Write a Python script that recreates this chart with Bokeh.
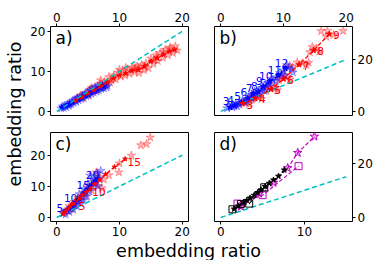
import math
from bokeh.plotting import figure
from bokeh.models import Range1d, LinearAxis, FixedTicker, Label
from bokeh.layouts import row, column
from bokeh.core.properties import value
from bokeh.embed import file_html
from bokeh.resources import INLINE

# ---------------- data ----------------
# reference (y = x) lines
diag_ab_x = [0, 20]
diag_ab_y = [0, 20]
diag_c_x = [0, 20]
diag_c_y = [0, 20]
diag_d_x = [0, 15]
diag_d_y = [0, 15]

# panel a: mean curves
a_red_x = [3.0, 4.0, 5.0, 6.0, 7.0, 8.0, 9.0, 10.0, 11.0, 12.0, 13.0, 14.0, 15.0, 16.0, 17.0, 18.0, 18.8]
a_red_y = [2.8, 3.6, 4.5, 5.3, 6.2, 7.3, 8.3, 9.0, 9.5, 10.2, 10.4, 11.3, 12.5, 13.3, 14.2, 15.0, 15.4]
a_blue_x = [0.8, 1.5, 2.0, 2.5, 3.0, 3.5, 4.0, 4.5, 5.0, 5.5, 6.0, 6.5, 7.0, 7.5]
a_blue_y = [1.0, 1.5, 1.9, 2.3, 2.7, 3.1, 3.5, 3.9, 4.3, 4.7, 5.1, 5.5, 5.8, 6.1]
# panel a: scatter clouds
a_red_sx = [3.2, 3.8, 4.1, 4.6, 5.0, 5.3, 5.7, 6.1, 6.4, 6.9, 7.2, 7.6, 8.0, 8.3, 8.7, 9.1, 9.4, 9.8,
            10.2, 10.5, 10.9, 11.3, 11.6, 12.0, 12.4, 12.8, 13.1, 13.5, 13.9, 14.2, 14.6, 15.0, 15.4,
            15.8, 16.1, 16.5, 16.9, 17.3, 17.7, 18.1, 18.5, 18.9, 19.2, 7.0, 8.5, 10.0, 12.5, 14.0,
            15.5, 17.0, 5.5, 9.0, 11.0, 13.0, 16.0, 18.0]
a_red_sy = [3.3, 4.0, 3.4, 4.6, 4.0, 5.5, 4.9, 6.1, 5.3, 6.9, 6.0, 7.4, 7.0, 8.6, 7.8, 9.0, 8.0, 9.7,
            8.7, 10.0, 9.0, 10.5, 9.4, 11.0, 9.8, 11.3, 9.6, 11.6, 10.3, 12.0, 10.8, 13.2, 11.9,
            14.0, 12.6, 14.6, 13.4, 15.4, 14.0, 16.0, 14.6, 16.3, 15.2, 7.8, 7.2, 10.4, 10.9, 11.2,
            12.8, 14.8, 5.9, 8.4, 10.9, 10.6, 13.5, 15.6]
a_blue_sx = [0.7, 0.9, 1.1, 1.3, 1.5, 1.7, 1.9, 2.1, 2.3, 2.5, 2.7, 2.9, 3.1, 3.3, 3.5, 3.7, 3.9, 4.1,
             4.3, 4.5, 4.7, 4.9, 5.1, 5.3, 5.5, 5.7, 5.9, 6.1, 6.3, 6.5, 6.7, 6.9, 7.1, 7.3, 7.5, 7.7,
             7.9, 8.1, 2.0, 3.0, 4.0, 5.0, 6.0, 7.0]
a_blue_sy = [0.8, 1.3, 0.9, 1.5, 1.1, 1.8, 1.4, 2.2, 1.8, 2.6, 2.1, 3.0, 2.4, 3.3, 2.8, 3.6, 3.1, 4.0,
             3.4, 4.4, 3.8, 4.7, 4.1, 5.2, 4.4, 5.6, 4.7, 5.9, 5.0, 6.3, 5.3, 6.4, 5.6, 6.5, 5.8, 6.6,
             6.0, 6.4, 1.7, 2.7, 3.6, 4.4, 5.3, 6.0]

# panel b: labelled means
b_blue_n = [3, 4, 5, 6, 7, 8, 9, 10, 11, 12]
b_blue_x = [1.5, 2.2, 3.3, 4.3, 5.2, 6.0, 6.8, 7.8, 9.2, 10.3]
b_blue_y = [1.5, 2.2, 3.5, 5.0, 6.8, 7.6, 9.5, 11.5, 13.8, 16.5]
b_red_n = [3, 4, 5, 6, 7, 8, 9]
b_red_x = [3.5, 5.5, 8.0, 10.0, 12.5, 14.8, 17.3]
b_red_y = [3.0, 5.0, 8.5, 12.5, 18.0, 23.5, 29.8]
# panel b: scatter clouds
b_blue_sx = [1.0, 1.8, 2.2, 1.3, 2.6, 1.9, 2.8, 2.4, 3.0, 3.8, 3.5, 4.2, 4.0, 4.8, 4.5, 5.2,
             4.9, 5.6, 5.4, 6.0, 5.8, 6.5, 6.3, 7.0, 6.6, 7.3, 7.1, 7.8, 7.5, 8.3, 8.1, 8.8,
             8.9, 9.7, 9.4, 10.2, 10.0, 10.8, 10.5, 11.3, 11.5]
b_blue_sy = [1.2, 1.6, 1.9, 2.0, 2.0, 2.6, 2.8, 3.0, 3.2, 3.6, 4.2, 3.9, 4.6, 5.2, 5.8, 5.0,
             6.3, 7.0, 7.6, 6.6, 7.2, 8.0, 8.6, 7.8, 9.0, 9.8, 10.5, 9.6, 11.0, 11.8, 12.6, 11.6,
             13.2, 14.1, 14.8, 13.8, 15.8, 16.8, 17.8, 16.3, 15.0]
b_red_sx = [3.0, 4.0, 4.5, 3.7, 5.0, 6.0, 6.5, 5.7, 4.8, 7.3, 8.6, 9.0, 8.2, 7.6, 9.3, 10.6, 11.0,
            10.2, 9.6, 11.5, 13.0, 13.6, 12.2, 11.0, 14.0, 14.2, 15.3, 15.7, 14.6, 16.0, 17.0, 18.0,
            19.5, 16.8]
b_red_sy = [2.6, 3.3, 2.8, 3.7, 4.5, 5.3, 4.8, 5.8, 5.5, 8.0, 8.8, 8.2, 9.5, 9.2, 12.0, 13.0, 12.3,
            13.8, 13.2, 17.0, 18.6, 17.9, 18.9, 17.6, 18.8, 22.8, 24.2, 23.0, 24.8, 30.9, 31.0, 29.5,
            31.0, 28.8]

# panel c: means
c_blue_n = [5, 6, 7, 8, 9, 10, 11, 12, 13, 14, 15, 16, 17, 18, 19, 20]
c_blue_x = [1.3, 1.7, 2.0, 2.4, 2.7, 3.0, 3.3, 3.7, 4.1, 4.5, 5.0, 5.3, 5.6, 5.9, 6.2, 6.5]
c_blue_y = [1.8, 2.5, 3.0, 3.7, 4.3, 5.0, 5.7, 6.5, 7.3, 8.2, 9.2, 9.9, 10.6, 11.2, 11.9, 12.5]
c_red_n = [1, 2, 3, 4, 5, 6, 7, 8, 9, 10, 11, 12, 13, 14, 15]
c_red_x = [1.0, 1.4, 1.8, 2.2, 2.6, 3.1, 3.6, 4.1, 4.7, 5.3, 6.0, 6.8, 7.8, 9.2, 10.9]
c_red_y = [1.2, 2.0, 2.8, 3.7, 4.6, 5.4, 6.3, 7.1, 8.1, 9.2, 10.6, 12.1, 13.9, 16.2, 18.8]
# panel c: scatter clouds
c_blue_sx = [1.0, 1.4, 1.6, 2.0, 2.3, 2.6, 2.8, 3.2, 3.4, 3.8, 4.0, 4.2, 4.5, 4.8, 5.0, 5.2, 5.5,
             5.8, 6.0, 6.2, 6.5, 6.8, 7.0, 6.6, 4.3, 3.6, 5.3]
c_blue_sy = [1.3, 1.0, 2.2, 1.8, 3.0, 2.5, 4.0, 3.6, 5.2, 4.6, 6.5, 5.4, 7.8, 6.8, 10.5, 8.4, 11.5,
             9.8, 13.0, 11.0, 14.2, 12.4, 15.0, 10.0, 9.2, 7.5, 13.5]
c_red_sx = [1.2, 1.8, 2.0, 2.5, 2.8, 3.0, 3.4, 3.9, 4.3, 4.6, 5.0, 5.6, 6.0, 6.5, 6.9, 7.2, 7.5,
            8.3, 9.9, 10.0, 11.9, 13.4, 14.3, 14.9, 6.3, 2.2]
c_red_sy = [1.8, 2.2, 3.6, 3.2, 5.0, 4.2, 6.4, 5.6, 7.8, 6.8, 9.6, 8.6, 11.6, 10.2, 13.0, 9.4, 12.2,
            13.6, 14.5, 17.4, 19.9, 23.2, 23.6, 25.7, 14.5, 2.6]

# panel d
d_black_star_x = [1.6, 2.1, 2.7, 3.1, 3.5, 4.0, 4.4, 4.8, 5.3, 5.8, 6.3, 6.9, 7.6]
d_black_star_y = [3.1, 4.2, 5.6, 6.3, 7.2, 8.2, 9.2, 10.2, 11.4, 12.6, 13.8, 15.2, 17.5]
d_black_sq_x = [1.4, 2.4, 3.4, 5.2]
d_black_sq_y = [3.0, 4.9, 5.1, 11.1]
d_mag_star_x = [2.4, 4.6, 6.3, 8.0, 9.2, 11.2]
d_mag_star_y = [4.0, 8.8, 12.8, 18.2, 23.8, 29.8]
d_mag_sq_x = [2.0, 5.0, 9.3]
d_mag_sq_y = [5.1, 8.2, 18.9]

# ---------------- style ----------------
FONT = "DejaVu Sans"
RED = "#ff0000"
BLUE = "#0000ff"
CYAN = "#00bfbf"
MAG = "#bf00bf"
FW, FH = 138, 89


def make_panel(xr, yr, bl, br, bt, bb):
    p = figure(frame_width=FW, frame_height=FH, x_range=Range1d(*xr), y_range=Range1d(*yr),
               min_border_left=bl, min_border_right=br, min_border_top=bt, min_border_bottom=bb,
               toolbar_location=None, output_backend="svg",
               x_axis_location=None, y_axis_location=None)
    p.grid.visible = False
    p.outline_line_color = "black"
    p.outline_line_width = 1
    p.outline_line_alpha = 1
    p.background_fill_color = "white"
    p.border_fill_color = "white"
    return p


def add_axis(p, side, ticks):
    ax = LinearAxis(ticker=FixedTicker(ticks=ticks, minor_ticks=[]),
                    axis_line_color=None, major_tick_out=3, major_tick_in=0,
                    minor_tick_out=0, minor_tick_in=0, major_label_standoff=2,
                    major_label_text_font=FONT, major_label_text_font_size="12px",
                    major_label_text_color="black", major_tick_line_color="black")
    p.add_layout(ax, side)


def panel_label(p, txt):
    p.add_layout(Label(x=p.x_range.start, y=p.y_range.end, x_offset=5, y_offset=-1,
                       text=txt, text_baseline="top", text_align="left",
                       text_font=FONT, text_font_size="17px", text_color="black"))


def cloud(p, xs, ys, color, size=9, alpha=0.3):
    p.scatter(xs, ys, marker="star", size=size, fill_color=color, line_color=color,
              fill_alpha=alpha, line_alpha=alpha)


def mean_line(p, xs, ys, color, size=6):
    p.line(xs, ys, line_color=color, line_width=1.3, line_dash="4 2")
    p.scatter(xs, ys, marker="star", size=size, fill_color=color, line_color=color)


def diag(p, xs, ys):
    p.line(xs, ys, line_color=CYAN, line_width=1.5, line_dash="5 3")


def num_labels(p, xs, ys, ns, color, dx, dy, keep=None):
    sel = [i for i, n in enumerate(ns) if keep is None or n % keep == 0]
    p.text([xs[i] for i in sel], [ys[i] for i in sel], text=[str(ns[i]) for i in sel],
           x_offset=dx, y_offset=dy, text_align="center", text_baseline="middle",
           text_color=color, text_font=value(FONT), text_font_size=value("10.5px"))


# ---- panel a ----
pa = make_panel((-1, 21), (-1, 21.2), 24, 12, 26, 9)
add_axis(pa, "above", [0, 10, 20])
add_axis(pa, "left", [0, 10, 20])
cloud(pa, a_red_sx, a_red_sy, RED)
cloud(pa, a_blue_sx, a_blue_sy, BLUE)
mean_line(pa, a_blue_x, a_blue_y, BLUE, 5)
mean_line(pa, a_red_x, a_red_y, RED, 5)
diag(pa, diag_ab_x, diag_ab_y)
panel_label(pa, "a)")

# ---- panel b ----
pb = make_panel((-1, 21), (-1.6, 32.7), 14, 21, 26, 9)
add_axis(pb, "above", [0, 10, 20])
add_axis(pb, "right", [0, 20])
cloud(pb, b_red_sx, b_red_sy, RED)
cloud(pb, b_blue_sx, b_blue_sy, BLUE)
diag(pb, diag_ab_x, diag_ab_y)
mean_line(pb, b_blue_x, b_blue_y, BLUE, 6)
mean_line(pb, b_red_x, b_red_y, RED, 6)
num_labels(pb, b_blue_x, b_blue_y, b_blue_n, BLUE, -4, -6)
num_labels(pb, b_red_x, b_red_y, b_red_n, RED, 7, 1)
panel_label(pb, "b)")

# ---- panel c ----
pc = make_panel((-1, 21), (-1.3, 27.3), 24, 12, 8, 18)
add_axis(pc, "below", [0, 10, 20])
add_axis(pc, "left", [0, 10, 20])
cloud(pc, c_red_sx, c_red_sy, RED)
cloud(pc, c_blue_sx, c_blue_sy, BLUE)
diag(pc, diag_c_x, diag_c_y)
mean_line(pc, c_blue_x, c_blue_y, BLUE, 5)
mean_line(pc, c_red_x, c_red_y, RED, 5)
num_labels(pc, c_blue_x, c_blue_y, c_blue_n, BLUE, -5, -4, keep=5)
num_labels(pc, c_red_x, c_red_y, c_red_n, RED, 9, 3, keep=5)
panel_label(pc, "c)")

# ---- panel d ----
pd_ = make_panel((-0.75, 15.75), (-1.5, 31.3), 14, 21, 8, 18)
add_axis(pd_, "below", [0, 10])
add_axis(pd_, "right", [0, 20])
diag(pd_, diag_d_x, diag_d_y)
pd_.line(d_mag_star_x, d_mag_star_y, line_color=MAG, line_width=1.2, line_dash="4 2")
pd_.scatter(d_mag_star_x, d_mag_star_y, marker="star", size=9, line_color=MAG,
            fill_color=MAG, fill_alpha=0.25, line_width=1)
pd_.line(d_mag_sq_x, d_mag_sq_y, line_color=MAG, line_width=1.2, line_dash="4 2")
pd_.scatter(d_mag_sq_x, d_mag_sq_y, marker="square", size=7, line_color=MAG,
            fill_color=None, line_width=1)
pd_.line(d_black_sq_x, d_black_sq_y, line_color="black", line_width=1.2, line_dash="4 2")
pd_.scatter(d_black_sq_x, d_black_sq_y, marker="square", size=7, line_color="black",
            fill_color=None, line_width=1)
pd_.line(d_black_star_x, d_black_star_y, line_color="black", line_width=1.2, line_dash="4 2")
pd_.scatter(d_black_star_x, d_black_star_y, marker="star", size=6, line_color="black",
            fill_color="black")
panel_label(pd_, "d)")

# ---- shared axis labels ----
def blank(w, h):
    f = figure(width=w, height=h, x_range=Range1d(0, 1), y_range=Range1d(0, 1),
               min_border=0, toolbar_location=None, output_backend="svg",
               x_axis_location=None, y_axis_location=None)
    f.grid.visible = False
    f.outline_line_color = None
    return f

ylab = blank(26, 260)
ylab.add_layout(Label(x=0.54, y=0.5635, text="embedding ratio", angle=math.pi / 2,
                      text_align="center", text_baseline="middle",
                      text_font=FONT, text_font_size="17.5px", text_color="black"))
xlab = blank(347, 21)
xlab.add_layout(Label(x=0.467, y=0.476, text="embedding ratio",
                      text_align="center", text_baseline="middle",
                      text_font=FONT, text_font_size="17.5px", text_color="black"))

layout = row(ylab, column(row(pa, pb), row(pc, pd_), xlab))

open("out.html", "w").write(file_html(layout, INLINE))
